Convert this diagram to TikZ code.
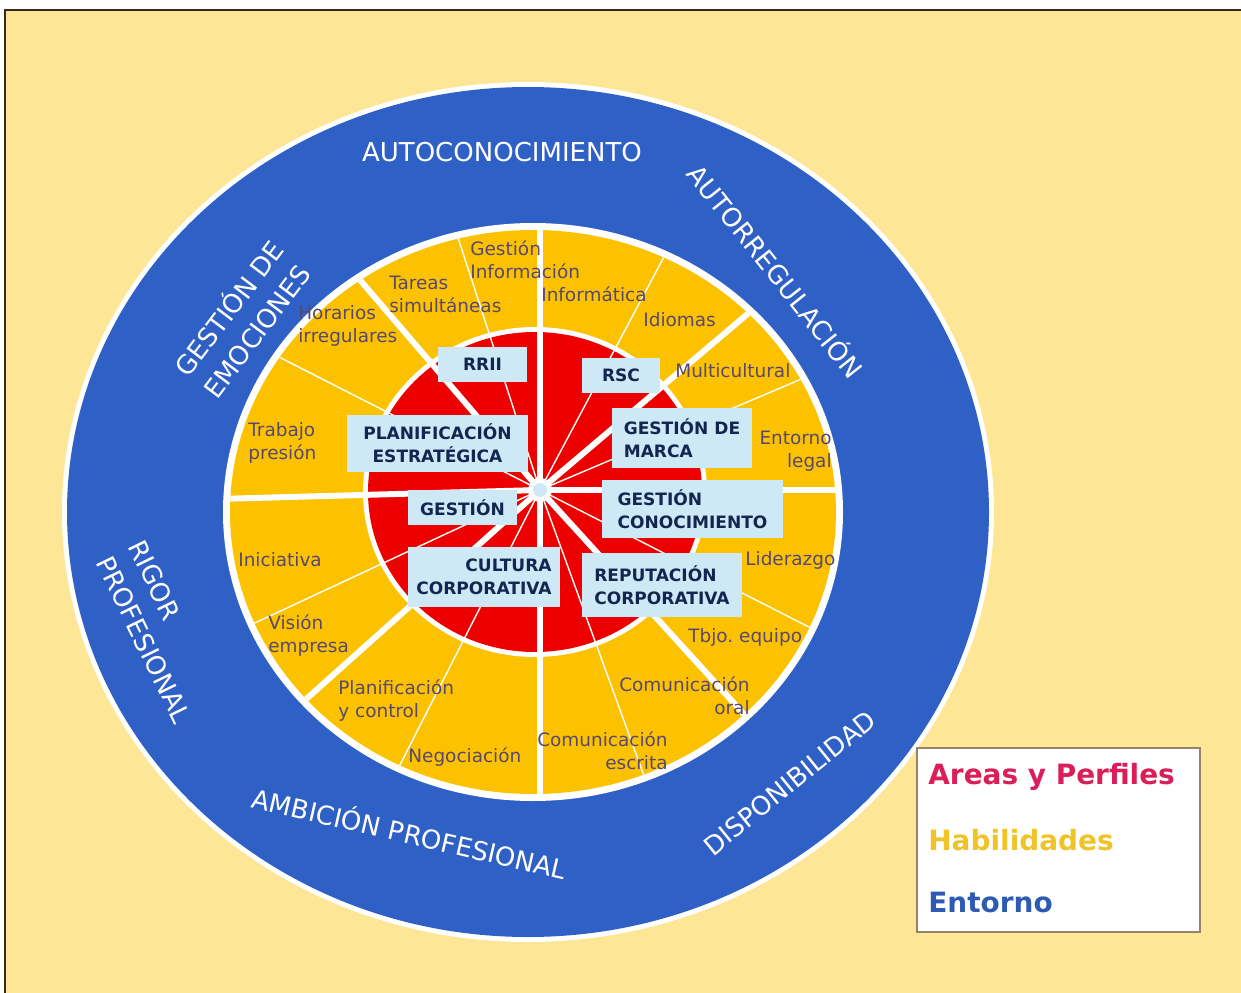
\documentclass[tikz,border=0pt]{standalone}
\usepackage{fontspec}
\setmainfont{DejaVu Sans}
\setsansfont{DejaVu Sans}
\usepackage{tikz}
\usetikzlibrary{positioning}

\definecolor{paper}{RGB}{253,231,150}
\definecolor{ringblue}{RGB}{47,96,197}
\definecolor{skillyellow}{RGB}{252,194,0}
\definecolor{areared}{RGB}{236,0,0}
\definecolor{areabox}{RGB}{206,232,246}
\definecolor{areatext}{RGB}{18,38,80}
\definecolor{labelgray}{RGB}{88,72,110}
\definecolor{legred}{RGB}{218,30,90}
\definecolor{legyellow}{RGB}{240,196,40}
\definecolor{legblue}{RGB}{46,90,180}
\definecolor{framebrown}{RGB}{60,40,30}

\newlength\unitpx
\setlength\unitpx{0.02cm}

\begin{document}
\begin{tikzpicture}[x=0.02cm, y=0.02cm,
    skill label/.style={inner sep=0pt, text=labelgray,
                        font=\sffamily\fontsize{10.5}{13.1}\selectfont},
    area box/.style={fill=areabox, text=areatext, inner sep=0pt,
                     font=\sffamily\bfseries\fontsize{9.7}{13.1}\selectfont},
    ring label/.style={text=white, inner sep=0pt,
                       font=\sffamily\fontsize{14.8}{20.5}\selectfont},
    thick spoke/.style={white, line width=3.4pt},
    thin spoke/.style={white, line width=0.8pt},
    legend entry/.style={anchor=west, inner sep=0pt,
                         font=\sffamily\bfseries\fontsize{15.9}{19}\selectfont}]

  % page
  \useasboundingbox (0,0) rectangle (1241,-993);
  \fill[white] (0,0) rectangle (1241,-993);
  \fill[paper] (5,-10) rectangle (1241,-993);
  \draw[framebrown, line width=1.1pt] (5,-993) -- (5,-10) -- (1241,-10);

  % rings
  \fill[white] (528,-512) ellipse [x radius=466, y radius=430];
  \fill[ringblue] (528,-512) ellipse [x radius=461, y radius=425];
  \fill[white] (533,-512) ellipse [x radius=310, y radius=289];
  \fill[skillyellow] (533,-512) ellipse [x radius=303, y radius=282];
  \fill[white] (535,-492) ellipse [x radius=172, y radius=165];
  \fill[areared] (535,-492) ellipse [x radius=167, y radius=160];

  % spokes
  \coordinate (hub) at (540,-490);
  \begin{scope}
    \clip (533,-512) ellipse [x radius=303, y radius=282];
    \draw[thin spoke] (hub) -- ++(108:400) (hub) -- ++(153:400)
                      (hub) -- ++(205:400) (hub) -- ++(243:400)
                      (hub) -- ++(290:400) (hub) -- ++(333:400)
                      (hub) -- ++(23:400)  (hub) -- ++(62:400);
    \draw[thick spoke] (hub) -- ++(90:400)    (hub) -- ++(40.3:400)
                       (hub) -- ++(0:400)     (hub) -- ++(-47.7:400)
                       (hub) -- ++(-90:400)   (hub) -- ++(221.8:400)
                       (hub) -- ++(181.6:400) (hub) -- ++(130.6:400);
  \end{scope}
  \fill[white] (hub) circle (12);
  \fill[areabox] (hub) circle (7);

  % skills
  \node[skill label, anchor=west, align=left]  (info)     at (470,-260) {Gestión\\Información};
  \node[skill label, anchor=west, align=left]  (tareas)   at (389,-294) {Tareas\\simultáneas};
  \node[skill label, anchor=west, align=left]  (horarios) at (298,-326) {Horarios\\irregulares};
  \node[skill label, anchor=west, align=left]  (trabajo)  at (248,-443) {Trabajo\\presión};
  \node[skill label, anchor=west]              (inic)     at (238,-560) {Iniciativa};
  \node[skill label, anchor=west, align=left]  (vision)   at (268,-636) {Visión\\empresa};
  \node[skill label, anchor=west, align=left]  (planctl)  at (338,-701) {Planificación\\y control};
  \node[skill label, anchor=west]              (negoc)    at (408,-757) {Negociación};
  \node[skill label, anchor=east, align=right] (escrita)  at (668,-751) {Comunicación\\escrita};
  \node[skill label, anchor=east, align=right] (oral)     at (750,-696) {Comunicación\\oral};
  \node[skill label, anchor=west]              (equipo)   at (688,-637) {Tbjo.\ equipo};
  \node[skill label, anchor=west]              (lider)    at (745,-560) {Liderazgo};
  \node[skill label, anchor=east, align=right] (legal)    at (832,-451) {Entorno\\legal};
  \node[skill label, anchor=west]              (multi)    at (675,-371) {Multicultural};
  \node[skill label, anchor=west]              (idiomas)  at (643,-320) {Idiomas};
  \node[skill label, anchor=west]              (informat) at (541,-294) {Informática};

  % areas
  \node[area box, minimum width=89\unitpx, minimum height=35\unitpx]  (rrii)    at (482.5,-364.5) {RRII};
  \node[area box, minimum width=78\unitpx, minimum height=35\unitpx]  (rsc)     at (621,-375.5) {RSC};
  \node[area box, minimum width=181\unitpx, minimum height=57\unitpx, align=center] (planif) at (437.5,-443.5) {PLANIFICACIÓN\\ESTRATÉGICA};
  \node[area box, minimum width=140\unitpx, minimum height=60\unitpx, align=left]   (marca)  at (682,-438) {GESTIÓN DE\\MARCA};
  \node[area box, minimum width=109\unitpx, minimum height=35\unitpx] (gestion) at (462.5,-507.5) {GESTIÓN};
  \node[area box, minimum width=181\unitpx, minimum height=58\unitpx, align=left]   (conoc)   at (692.5,-509) {GESTIÓN\\CONOCIMIENTO};
  \node[area box, minimum width=152\unitpx, minimum height=60\unitpx, align=right]  (cultura) at (484,-577) {CULTURA\\CORPORATIVA};
  \node[area box, minimum width=160\unitpx, minimum height=64\unitpx, align=left]   (reput)   at (662,-585) {REPUTACIÓN\\CORPORATIVA};

  % environment
  \node[ring label] (autocon) at (502,-152) {AUTOCONOCIMIENTO};
  \node[ring label, rotate=-51.5] (autoreg) at (777,-270) {AUTORREGULACIÓN};
  \node[ring label, rotate=53, align=left] (emoc) at (242,-318) {GESTIÓN DE\\EMOCIONES};
  \node[ring label, rotate=-64, align=left] (rigor) at (160,-632) {RIGOR\\PROFESIONAL};
  \node[ring label, rotate=-13] (ambic) at (410,-832) {AMBICIÓN PROFESIONAL};
  \node[ring label, rotate=39] (dispon) at (790,-783) {DISPONIBILIDAD};

  % legend
  \draw[fill=white, draw={rgb,255:red,150;green,130;blue,100}, line width=1.1pt] (917,-748) rectangle (1200,-932);
  \node[legend entry, text=legred]    (areas)   at (928,-777) {Areas y Perfiles};
  \node[legend entry, text=legyellow] (habil)   at (928,-840) {Habilidades};
  \node[legend entry, text=legblue]   (entorno) at (928,-903) {Entorno};
\end{tikzpicture}
\end{document}
